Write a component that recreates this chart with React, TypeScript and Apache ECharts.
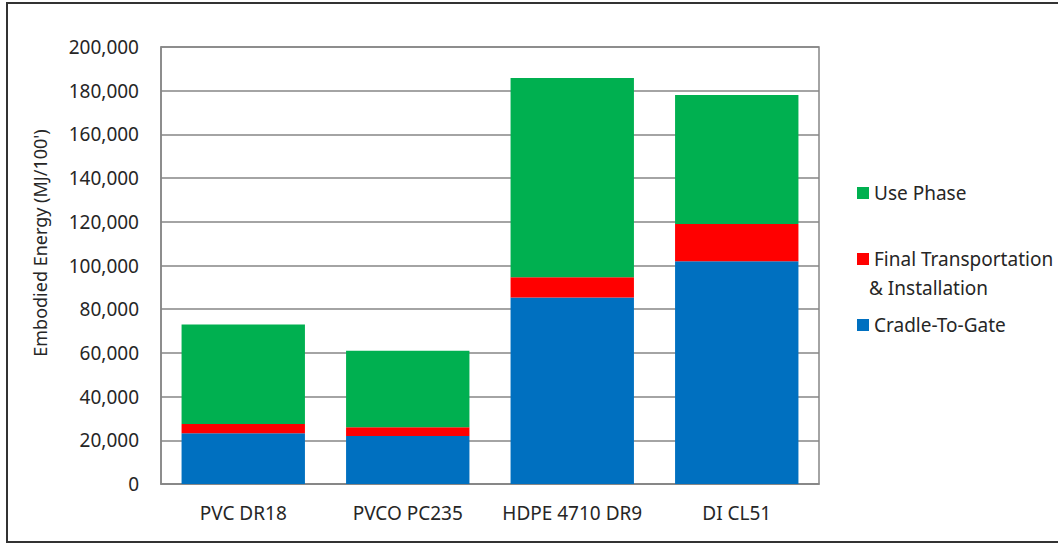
import React, { useEffect, useRef } from "react";
import * as echarts from "echarts";

const categories = ["PVC DR18", "PVCO PC235", "HDPE 4710 DR9", "DI CL51"];
const cradleToGate = [23200, 22000, 85400, 102000];
const finalTransport = [4300, 4000, 9200, 17000];
const usePhase = [45500, 35000, 91200, 59000];
const yTicks = { min: 0, max: 200000, interval: 20000 };

const FONT = "'Noto Sans', 'DejaVu Sans', sans-serif";
const TEXT = "#262626";
const GRID = "#868686";

export default function App() {
  const ref = useRef<HTMLDivElement>(null);
  useEffect(() => {
    if (!ref.current) return;
    const chart = echarts.init(ref.current, null, { renderer: "svg" });
    chart.setOption({
      animation: false,
      backgroundColor: "#ffffff",
      textStyle: { fontFamily: FONT },
      grid: {
        left: 161,
        top: 47,
        right: 239,
        bottom: 60,
        show: true,
        borderColor: GRID,
        borderWidth: 1.5,
      },
      legend: {
        orient: "vertical",
        left: 852,
        top: 177,
        itemWidth: 12,
        itemHeight: 12,
        itemGap: 44,
        icon: "rect",
        data: ["Use Phase", "Final Transportation & Installation", "Cradle-To-Gate"],
        formatter: (name: string) =>
          name === "Final Transportation & Installation" ? "Final Transportation" : name,
        textStyle: { fontFamily: FONT, fontSize: 19, color: TEXT, lineHeight: 22 },
      },
      xAxis: {
        type: "category",
        data: categories,
        axisTick: { show: false },
        axisLine: { lineStyle: { color: GRID, width: 1.5 } },
        axisLabel: { fontFamily: FONT, fontSize: 19, color: TEXT, margin: 19, interval: 0 },
      },
      yAxis: {
        type: "value",
        min: yTicks.min,
        max: yTicks.max,
        interval: yTicks.interval,
        axisLine: { show: true, lineStyle: { color: GRID, width: 1.5 } },
        axisTick: { show: false },
        splitLine: { lineStyle: { color: GRID, width: 1.5 } },
        axisLabel: {
          fontFamily: FONT,
          fontSize: 19,
          color: TEXT,
          margin: 22,
          formatter: (v: number) => v.toLocaleString("en-US"),
        },
      },
      series: [
        {
          name: "Cradle-To-Gate",
          type: "bar",
          stack: "total",
          barWidth: "75%",
          data: cradleToGate,
          itemStyle: { color: "#0070C0" },
        },
        {
          name: "Final Transportation & Installation",
          type: "bar",
          stack: "total",
          barWidth: "75%",
          data: finalTransport,
          itemStyle: { color: "#FF0000" },
        },
        {
          name: "Use Phase",
          type: "bar",
          stack: "total",
          barWidth: "75%",
          data: usePhase,
          itemStyle: { color: "#00B050" },
        },
      ],
      graphic: [
        {
          type: "polyline",
          shape: { points: [[1058, 3], [7, 3], [7, 542], [1058, 542]] },
          style: { stroke: "#333333", lineWidth: 2, fill: "none" },
          silent: true,
        },
        {
          type: "text",
          x: 40,
          y: 243,
          rotation: Math.PI / 2,
          style: {
            text: "Embodied Energy (MJ/100')",
            fontFamily: FONT,
            fontSize: 18,
            fill: TEXT,
            align: "center",
            verticalAlign: "middle",
          },
        },
        {
          type: "text",
          x: 869,
          y: 288,
          style: {
            text: "& Installation",
            fontFamily: FONT,
            fontSize: 19,
            fill: TEXT,
            align: "left",
            verticalAlign: "middle",
          },
        },
      ],
    });
    return () => chart.dispose();
  }, []);
  return (
    <div
      ref={ref}
      style={{ position: "fixed", left: 0, top: 0, width: 1058, height: 544, background: "#fff" }}
    />
  );
}
